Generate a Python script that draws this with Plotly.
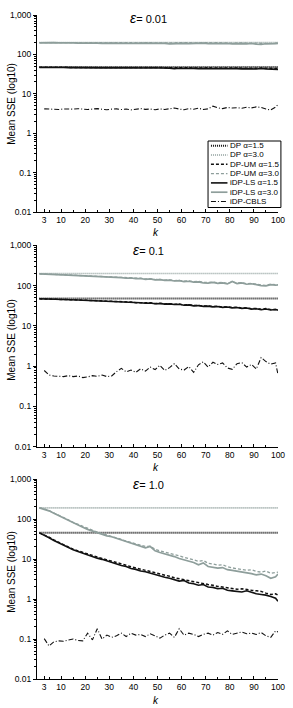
import plotly.graph_objects as go

# k values (k=1 start point, then every second k, then 100)
K = [1] + list(range(3, 100, 2)) + [100]
K_DP = [1, 100]

X_TICKS = [3, 10, 20, 30, 40, 50, 60, 70, 80, 90, 100]
Y_TICKS = [0.01, 0.1, 1, 10, 100, 1000]
Y_TICKTEXT = ["0.01", "0.1", "1", "10", "100", "1,000"]
EPS_LABELS = ["0.01", "0.1", "1.0"]
SERIES_NAMES = ["DP α=1.5", "DP α=3.0", "DP-UM α=1.5", "DP-UM α=3.0",
                "iDP-LS α=1.5", "iDP-LS α=3.0", "iDP-CBLS"]

# ---- epsilon = 0.01 ----
dp15_1 = [48, 48]
dp30_1 = [200, 200]
um15_1 = [47.0,46.9,47.2,46.7,47.1,46.8,46.5,47.0,46.6,46.9,46.4,46.8,46.3,46.7,46.2,46.6,46.9,46.3,46.7,46.1,
          46.5,46.8,46.2,46.6,46.0,46.4,46.1,45.8,45.2,46.0,45.4,45.9,45.0,45.6,45.2,45.8,44.9,45.5,44.6,45.3,
          44.8,45.4,44.5,45.1,44.7,44.2,45.0,44.3,44.8,44.0,44.6]
um30_1 = [200,201,199,202,200,198,201,199,200,197,199,201,198,200,196,199,197,200,198,195,
          199,197,200,196,198,195,197,194,196,199,197,195,198,196,199,194,197,199,195,197,
          193,196,194,192,195,190,188,192,190,194,196]
ls15_1 = [46.5,46.8,46.2,46.6,46.0,46.4,46.1,45.8,46.3,45.9,46.2,45.7,46.0,45.5,45.9,46.1,45.6,45.8,45.4,45.9,
          45.6,45.2,45.7,45.3,45.8,45.1,45.5,44.9,43.2,44.6,43.8,44.9,44.2,43.5,44.7,44.0,43.4,44.5,43.9,43.1,
          44.2,43.6,42.8,43.9,43.2,42.6,43.8,42.9,42.3,43.5,41.8]
ls30_1 = [197,199,196,198,195,197,194,196,193,195,192,196,194,191,195,193,190,194,192,189,
          193,191,194,190,192,188,191,186,189,192,190,187,191,189,193,188,190,192,187,189,
          186,190,188,185,189,183,180,186,184,188,191]
cbls_1 = [None,4.15,4.05,4.1,4.0,4.12,4.02,4.08,4.18,4.05,4.0,4.1,4.2,4.05,3.95,4.08,4.15,3.98,4.1,3.92,
          4.05,4.2,4.02,4.1,3.95,4.12,4.0,4.18,4.35,4.1,3.95,4.2,4.05,4.3,4.0,4.15,4.85,4.4,4.2,4.5,
          4.35,4.45,4.3,4.55,4.4,4.65,4.5,4.1,3.9,4.6,5.35]

# ---- epsilon = 0.1 ----
dp15_2 = [48, 48]
dp30_2 = [200, 200]
um15_2 = [47,46.9,46.5,46.1,45.7,45.3,44.8,44.4,43.9,43.5,43.0,42.6,42.0,41.5,41.0,40.4,39.8,39.2,38.7,39.0,
          37.6,38.0,36.8,37.3,35.9,36.3,35.1,35.5,34.3,34.7,33.0,33.5,31.9,32.4,30.9,31.4,30.1,30.7,29.3,29.9,
          28.5,29.1,27.6,28.2,26.6,27.1,25.8,26.8,25.3,25.9,25.4]
um30_2 = [196,195,193,191,188,186,184,181,179,177,175,173,171,168,166,164,161,158,155,156,
          150,152,146,148,141,143,137,139,133,135,129,131,125,127,121,119,123,117,120,113,
          124,115,119,111,114,107,103,101,109,105,106]
ls15_2 = [47,46.8,46.3,45.9,45.5,45.0,44.6,44.2,43.7,43.2,42.8,42.3,41.7,41.2,40.6,40.1,39.4,38.8,38.3,38.7,
          37.2,37.6,36.4,36.9,35.5,35.9,34.7,35.1,33.9,34.3,32.6,33.1,31.4,32.0,30.4,30.9,29.6,30.2,28.8,29.4,
          28.0,28.6,27.1,27.7,26.1,26.6,25.2,26.3,24.8,25.4,24.6]
ls30_2 = [195,194,192,190,186,185,182,180,178,176,174,172,170,167,164,163,160,157,152,155,
          148,150,143,146,138,140,134,136,130,132,126,128,122,124,117,115,120,114,117,110,
          126,112,116,108,111,104,100,98,106,102,104]
cbls_2 = [None,0.78,0.6,0.57,0.56,0.55,0.58,0.55,0.57,0.52,0.54,0.58,0.56,0.6,0.55,0.57,0.73,0.88,0.72,0.8,
          0.7,0.86,0.75,0.95,0.82,1.05,0.78,0.92,1.15,0.85,0.8,0.98,0.7,1.08,1.28,0.95,1.25,1.1,1.2,0.9,
          0.83,1.15,1.22,0.95,1.1,0.85,1.63,1.3,1.12,1.2,0.62]

# ---- epsilon = 1.0 ----
dp15_3 = [45, 45]
dp30_3 = [190, 190]
um15_3 = [45,40.5,35,30,26,22.5,19.5,17.5,16,14.5,13.3,12.3,11.2,10.3,9.6,8.9,8.1,7.5,7.0,6.4,
          6.0,5.6,5.2,4.9,4.5,4.3,4.0,3.7,3.4,3.2,3.0,2.9,2.7,2.5,2.45,2.3,2.2,2.05,2.0,1.9,
          1.85,1.75,1.8,1.7,1.65,1.6,1.55,1.4,1.3,1.35,1.25]
um30_3 = [190,180,162,143,125,108,95,82,73,64,57,52,47,43,40,37,34,31,28,26,
          24,22,20.5,21,17.5,16,15,14,13,12,11,10.2,9.5,8.8,9.2,7.8,7.5,7.0,7.2,6.4,
          6.0,5.8,5.6,5.2,5.4,4.9,4.7,5.0,4.4,4.6,4.7]
ls15_3 = [45,40,34,29,25.5,22,19,17,15.5,14,12.8,11.8,10.5,9.8,8.9,8.3,7.6,6.9,6.5,5.8,
          5.5,5.0,4.8,4.4,4.2,3.8,3.5,3.3,3.0,2.8,2.9,2.5,2.4,2.2,2.3,2.0,1.95,1.8,1.85,1.65,
          1.6,1.55,1.5,1.6,1.45,1.35,1.3,1.25,1.15,1.05,0.88]
ls30_3 = [190,178,160,140,122,105,92,78,70,62,55,50,46,42,38,36,33,29,27,25,
          23,21,19,20.5,16,14.5,13.5,12.5,11.5,10.3,9.6,9.0,8.2,7.2,8.0,6.5,6.3,5.9,6.1,5.4,
          5.2,5.0,4.7,4.6,4.3,4.0,4.2,3.8,3.3,3.6,4.2]
cbls_3 = [None,0.102,0.067,0.085,0.09,0.088,0.095,0.1,0.092,0.09,0.14,0.095,0.18,0.1,0.125,0.11,0.12,0.14,0.115,0.14,
          0.125,0.13,0.115,0.135,0.12,0.105,0.125,0.14,0.11,0.18,0.125,0.14,0.13,0.115,0.13,0.14,0.125,0.145,0.13,0.16,
          0.13,0.14,0.15,0.135,0.14,0.13,0.145,0.12,0.11,0.16,0.15]

PANELS = [
    (dp15_1, dp30_1, um15_1, um30_1, ls15_1, ls30_1, cbls_1),
    (dp15_2, dp30_2, um15_2, um30_2, ls15_2, ls30_2, cbls_2),
    (dp15_3, dp30_3, um15_3, um30_3, ls15_3, ls30_3, cbls_3),
]

BLACK = "#111111"
GRAY = "#8e9e9b"
FONT = "Liberation Sans, Arial, sans-serif"
DOT = "1px,1px"
DASH = "3px,2px"
DASHDOT = "5px,2px,1px,2px"

# style per series: (color, dash, width)
STYLES = [
    (BLACK, DOT, 2.0),
    (GRAY, DOT, 1.6),
    (BLACK, DASH, 1.5),
    (GRAY, DASH, 1.3),
    (BLACK, "solid", 1.6),
    (GRAY, "solid", 1.7),
    (BLACK, DASHDOT, 1.1),
]

# figure geometry (pixels)
W, H = 293, 708
ML, MR, MT, MB = 37, 8, 15, 29
PW, PH = W - ML - MR, H - MT - MB


def px(xp):
    return (xp - ML) / PW


def py(yp):
    return (H - MB - yp) / PH


fig = go.Figure()

for p, panel in enumerate(PANELS):
    xa = "x" if p == 0 else f"x{p+1}"
    ya = "y" if p == 0 else f"y{p+1}"
    for i, ys in enumerate(panel):
        col, dash, w = STYLES[i]
        xs = K_DP if i < 2 else K
        fig.add_trace(go.Scatter(
            x=xs, y=ys, mode="lines", name=SERIES_NAMES[i], showlegend=False,
            line=dict(color=col, dash=dash, width=w),
            xaxis=xa, yaxis=ya,
        ))

domains = [[py(212), 1.0], [py(446.7), py(245.3)], [0.0, py(479)]]
axis_common = dict(showline=True, linecolor="black", linewidth=1.2, mirror=False,
                   showgrid=False, zeroline=False, ticklen=3,
                   tickcolor="black", tickfont=dict(family=FONT, size=8.5, color="black"))

for p in range(3):
    sx = "" if p == 0 else str(p + 1)
    fig.layout[f"xaxis{sx}"] = dict(
        axis_common, domain=[0, 1], anchor=f"y{sx}", range=[0, 100], ticks="inside",
        ticklabelstandoff=0,
        tickmode="array", tickvals=X_TICKS, ticktext=[str(v) for v in X_TICKS],
        minor=dict(ticks="inside", ticklen=2, dtick=5, tick0=0, tickcolor="black", showgrid=False),
    )
    fig.layout[f"yaxis{sx}"] = dict(
        axis_common, domain=domains[p], anchor=f"x{sx}", type="log", range=[-2, 3], ticks="outside",
        tickmode="array", tickvals=Y_TICKS, ticktext=Y_TICKTEXT,
        minor=dict(ticks="outside", ticklen=2, dtick="D1", tickcolor="black", showgrid=False),
    )

annotations = []
shapes = []
eps_y = [18, 250.5, 484]
k_y = [233, 467, 700]
ylab_y = [104, 340, 572]
for p in range(3):
    annotations.append(dict(
        xref="paper", yref="paper", x=px(151.5), y=py(eps_y[p]), xanchor="center", yanchor="middle",
        text=f"<i><span style='font-size:14px'>ε</span></i>= {EPS_LABELS[p]}",
        showarrow=False, font=dict(family=FONT, size=11, color="black")))
    annotations.append(dict(
        xref="paper", yref="paper", x=px(159), y=py(k_y[p]), xanchor="center", yanchor="middle",
        text="<i>k</i>", showarrow=False, font=dict(family=FONT, size=10, color="black")))
    annotations.append(dict(
        xref="paper", yref="paper", x=px(10), y=py(ylab_y[p]), xanchor="center", yanchor="middle",
        text="Mean SSE (log10)", textangle=-90, showarrow=False,
        font=dict(family=FONT, size=10, color="black")))

# legend box (top panel)
shapes.append(dict(type="rect", xref="paper", yref="paper",
                   x0=px(213), x1=px(288), y0=py(207.5), y1=py(141),
                   line=dict(color="black", width=1), fillcolor="white", layer="above"))
for i, name in enumerate(SERIES_NAMES):
    col, dash, w = STYLES[i]
    yc = 145.7 + i * 9.3
    shapes.append(dict(type="line", xref="paper", yref="paper",
                       x0=px(216), x1=px(233), y0=py(yc), y1=py(yc),
                       line=dict(color=col, dash=dash, width=w), layer="above"))
    annotations.append(dict(
        xref="paper", yref="paper", x=px(234), y=py(yc), xanchor="left", yanchor="middle",
        text=name, showarrow=False, font=dict(family=FONT, size=8, color="black")))

fig.update_layout(
    width=W, height=H,
    margin=dict(l=ML, r=MR, t=MT, b=MB),
    paper_bgcolor="white", plot_bgcolor="white",
    annotations=annotations, shapes=shapes,
    showlegend=False,
)

fig.write_html("out.html", config={"displayModeBar": False},
               post_script="document.body.style.margin='0px';")
